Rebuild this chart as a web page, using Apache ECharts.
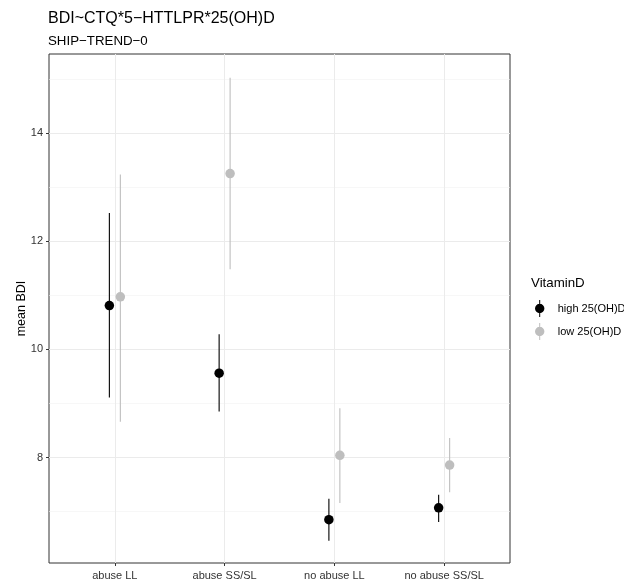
<!DOCTYPE html>
<html>
<head>
<meta charset="utf-8">
<script src="https://cdn.jsdelivr.net/npm/echarts@6/dist/echarts.min.js"></script>
<style>
  html, body { margin: 0; padding: 0; background: #fff; }
  #chart { width: 624px; height: 581px; }
</style>
</head>
<body>
<div id="chart"></div>
<script>
// categories on the x axis
var categories = ['abuse LL', 'abuse SS/SL', 'no abuse LL', 'no abuse SS/SL'];

// high 25(OH)D group: mean and interval ends
var highMean = [10.81, 9.56, 6.85, 7.07];
var highLow  = [9.11, 8.85, 6.46, 6.81];
var highHigh = [12.52, 10.28, 7.24, 7.31];

// low 25(OH)D group
var lowMean = [10.97, 13.25, 8.04, 7.86];
var lowLow  = [8.66, 11.48, 7.16, 7.36];
var lowHigh = [13.23, 15.02, 8.91, 8.36];

var yMajorTicks = [8, 10, 12, 14];
var yMinorTicks = [7, 9, 11, 13, 15];

var groupNames = ['high 25(OH)D', 'low 25(OH)D'];
var groupColors = ['#000000', '#bebebe'];
var dodge = 0.05;   // ggplot position_dodge, half width

var myChart = echarts.init(document.getElementById('chart'));

// 把均值和区间拼成 series 需要的数据
function pointData(mean, shift) {
  return mean.map(function (v, i) { return [i + shift, v]; });
}
function barData(lo, hi, shift) {
  return lo.map(function (v, i) { return [i + shift, v, hi[i]]; });
}

function errorBarSeries(name, data, color) {
  return {
    name: name,
    type: 'custom',
    data: data,
    z: 2,
    renderItem: function (params, api) {
      var top = api.coord([api.value(0), api.value(2)]);
      var bottom = api.coord([api.value(0), api.value(1)]);
      return {
        type: 'line',
        shape: { x1: top[0], y1: top[1], x2: bottom[0], y2: bottom[1] },
        style: { stroke: color, lineWidth: 1.1 }
      };
    }
  };
}

var keyIcon = 'path://M4.5,0 L5.5,0 L5.5,17 L4.5,17 Z M5,3.8 A4.7,4.7 0 1,1 4.99,3.8 Z';

var option = {
  animation: false,
  backgroundColor: '#ffffff',
  textStyle: { fontFamily: 'Liberation Sans' },
  title: [
    {
      text: 'BDI~CTQ*5\u2212HTTLPR*25(OH)D',
      subtext: 'SHIP\u2212TREND\u22120',
      left: 48, top: 11, padding: 0, itemGap: 8,
      textStyle: { fontSize: 16, fontWeight: 'normal', color: '#000' },
      subtextStyle: { fontSize: 13.3, color: '#000' }
    },
    {
      text: 'VitaminD',
      left: 531, top: 277, padding: 0,
      textStyle: { fontSize: 13.3, fontWeight: 'normal', color: '#000' }
    }
  ],
  legend: {
    orient: 'vertical',
    left: 535, top: 300,
    padding: 0,
    itemWidth: 10, itemHeight: 17, itemGap: 6,
    textStyle: { fontSize: 11, color: '#000', padding: [0, 0, 0, 8] },
    data: [
      { name: groupNames[0], icon: keyIcon, itemStyle: { color: groupColors[0] } },
      { name: groupNames[1], icon: keyIcon, itemStyle: { color: groupColors[1] } }
    ]
  },
  grid: {
    left: 49, top: 54, right: 114, bottom: 18,
    show: true, borderColor: '#333333', borderWidth: 1, backgroundColor: '#fff'
  },
  xAxis: {
    type: 'value',
    min: -0.6, max: 3.6,
    axisLine: { show: false },
    axisTick: { show: true, length: 3, customValues: [0, 1, 2, 3], lineStyle: { color: '#333' } },
    axisLabel: {
      customValues: [0, 1, 2, 3], margin: 7, fontSize: 11, color: '#333',
      formatter: function (v) { return categories[Math.round(v)]; }
    },
    splitLine: { show: true, lineStyle: { color: '#ebebeb', width: 1 } }
  },
  yAxis: [
    {
      type: 'value',
      min: 6.05, max: 15.46,
      axisLine: { show: false },
      axisTick: { show: false, customValues: yMinorTicks },
      axisLabel: { show: false },
      splitLine: { show: true, lineStyle: { color: '#f2f2f2', width: 0.6 } }
    },
    {
      type: 'value',
      position: 'left',
      min: 6.05, max: 15.46,
      name: 'mean BDI', nameLocation: 'middle', nameGap: 21, nameMoveOverlap: false,
      nameTextStyle: { fontSize: 12.5, color: '#000' },
      axisLine: { show: false },
      axisTick: { show: true, length: 3, customValues: yMajorTicks, lineStyle: { color: '#333' } },
      axisLabel: { customValues: yMajorTicks, margin: 6, fontSize: 11, color: '#333' },
      splitLine: { show: true, lineStyle: { color: '#ebebeb', width: 1 } }
    }
  ],
  series: [
    errorBarSeries(groupNames[0], barData(highLow, highHigh, -dodge), groupColors[0]),
    errorBarSeries(groupNames[1], barData(lowLow, lowHigh, dodge), groupColors[1]),
    {
      name: groupNames[0], type: 'scatter', z: 3,
      symbol: 'circle', symbolSize: 9.5,
      itemStyle: { color: groupColors[0], opacity: 1 },
      data: pointData(highMean, -dodge)
    },
    {
      name: groupNames[1], type: 'scatter', z: 3,
      symbol: 'circle', symbolSize: 9.5,
      itemStyle: { color: groupColors[1], opacity: 1 },
      data: pointData(lowMean, dodge)
    }
  ]
};

myChart.setOption(option);
</script>
</body>
</html>
